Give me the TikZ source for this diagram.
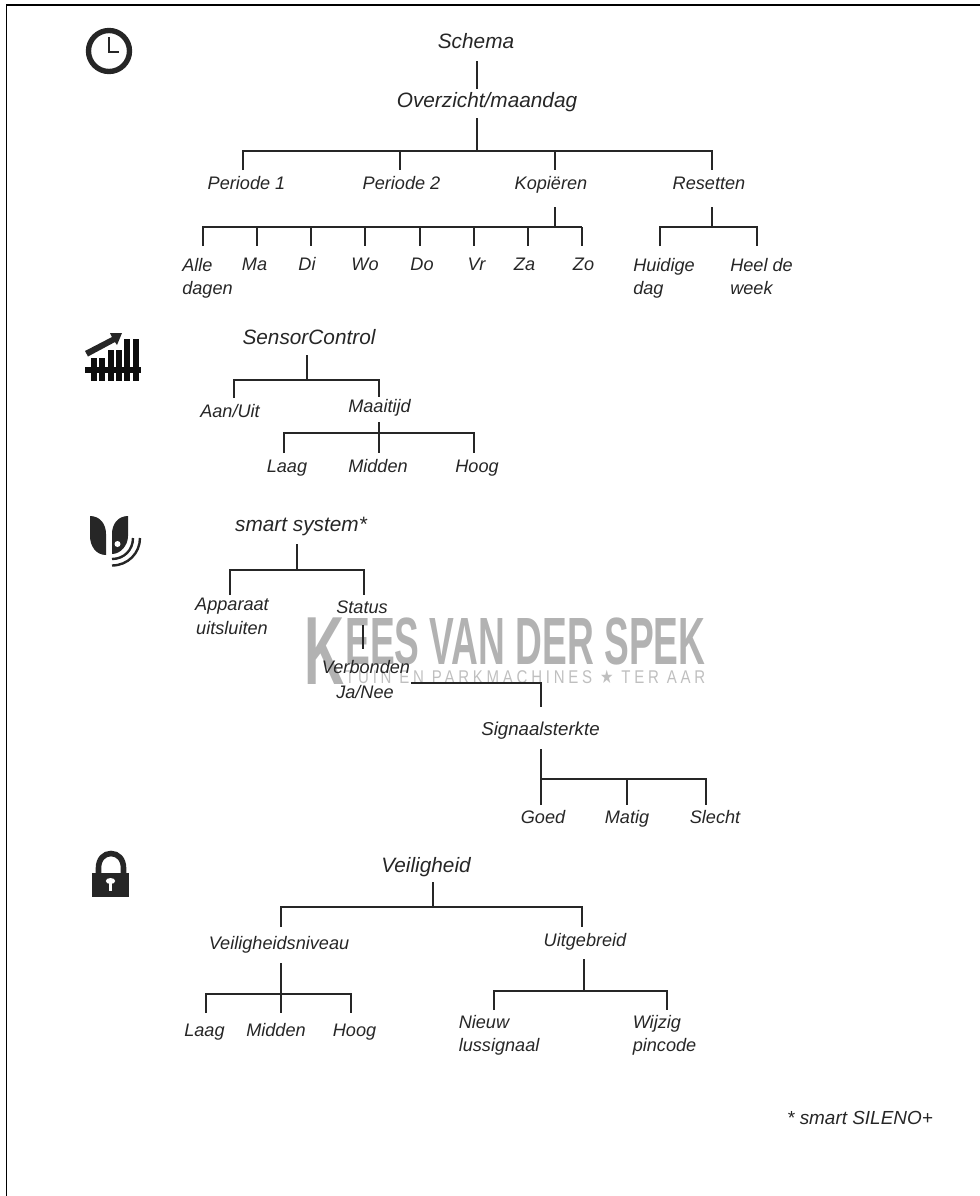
\documentclass[tikz,border=0pt]{standalone}
\usepackage{fontspec}
\usepackage{graphicx}
\setmainfont{Liberation Sans}
\newfontfamily\dvfont{DejaVu Sans}
\tikzset{x=0.75pt,y=-0.75pt,
 lbl/.style={font=\itshape\fontsize{13.6}{16.5}\selectfont,text=black!85,align=center,inner sep=0pt,anchor=center},
 rowlbl/.style={lbl,text height=9.8pt,text depth=2.9pt},
 big/.style={font=\itshape\fontsize{15.6}{18}\selectfont,text=black!85,inner sep=0pt,anchor=center},
 conn/.style={draw=black!85,line width=1.2pt},
 thick conn/.style={draw=black!85,line width=1.6pt},
 icon/.style={fill=black!85,draw=none},
 frame/.style={draw=black,line width=1.1pt}}
\begin{document}
\begin{tikzpicture}
\useasboundingbox (0,0) rectangle (980,1196);
% frame
\coordinate (fa) at (6.5,1196); \coordinate (fb) at (6.5,5); \coordinate (fc) at (980,5);
\draw[frame] (fa) -- (fb) -- (fc);
% watermark
\node[inner sep=0pt,anchor=south west,text=black!30] (wmk) at (304,685) {\resizebox{30pt}{50pt}{\bfseries K}};
\node[inner sep=0pt,anchor=south west,text=black!30] (wm) at (345,665) {\resizebox{270pt}{35pt}{\bfseries EES VAN DER SPEK}};
\node[inner sep=0pt,anchor=south west,text=black!25] (wm2) at (345,684) {\resizebox{270pt}{10pt}{\fontspec{Liberation Sans}[LetterSpace=25]TUIN EN PARKMACHINES {\dvfont ★} TER AAR}};
% clock icon
\draw[draw=black!85,line width=4pt] (109,51) circle (20.5);
\draw[draw=black!85,line width=2.2pt] (109,37) -- (109,52) -- (119,52);
% sensor icon
\foreach \xa/\ya in {91/358,99/358,108/350,116/350,124/339,133/339}{
 \fill[black!95] (\xa,\ya) rectangle (\xa+6,381);}
\fill[black!95] (85,367) rectangle (141,373);
\fill[icon] (85,351) -- (112,337) -- (110,333) -- (122,333) -- (117,345) -- (115,342) -- (88,356.5) -- cycle;
% smart icon
\fill[icon] (90,516) .. controls (100,516) and (106,524) .. (106,534) -- (106,555) .. controls (96,555) and (90,546) .. (90,536) -- cycle;
\fill[icon] (128,516) .. controls (118,516) and (112,524) .. (112,534) -- (112,554) .. controls (120,554) and (128,546) .. (128,536) -- cycle;
\fill[white] (117.5,544) circle (3);
\draw[draw=black!85,line width=1.8pt] (112,559) .. controls (124,559) and (133,550) .. (133,538);
\draw[draw=black!85,line width=1.8pt] (112,565.5) .. controls (128,565.5) and (140,553) .. (140,538);
% lock icon
\fill[icon] (92,873) rectangle (129,897);
\draw[draw=black!85,line width=4.2pt] (98.5,874) -- (98.5,868) .. controls (98.5,859) and (104,853.5) .. (111,853.5) .. controls (118,853.5) and (123.5,859) .. (123.5,868) -- (123.5,874);
\fill[white] (110.5,881) ellipse (4.7 and 3);
\fill[white] (108.8,881) rectangle (112,891);
% Schema tree
\node[big] (schema) at (476,41) {Schema};
\node[big] (ov) at (487,102) {Overzicht/maandag};
\node[rowlbl] (p1) at (246.5,185) {Periode 1};
\node[rowlbl] (p2) at (401.5,185) {Periode 2};
\node[rowlbl] (ko) at (551,185) {Kopiëren};
\node[rowlbl] (re) at (709,185) {Resetten};
\draw[conn] (477,61) -- (477,89);
\draw[conn] (477,118) -- (477,151);
\draw[conn] (243,170) -- (243,151) -- (712,151) -- (712,170);
\draw[conn] (400,151) -- (400,170);
\draw[conn] (555,151) -- (555,170);
\foreach \xa/\xb/\t/\n in {257/254.5/Ma/ma,311/307/Di/di,365/365/Wo/wo,420/422/Do/do,474/476.5/Vr/vr,528/524.5/Za/za,582/583.5/Zo/zo}{
 \node[rowlbl] (\n) at (\xb,266) {\t};
 \draw[conn] (\xa,227) -- (\xa,246);}
\node[lbl,align=left,anchor=north west] (alle) at (182,258) {Alle\\[1pt]dagen};
\draw[conn] (203,246) -- (203,227) -- (582,227);
\draw[conn] (555,207) -- (555,227);
\node[lbl,align=left,anchor=north west] (hui) at (633,258) {Huidige\\[1pt]dag};
\node[lbl,align=left,anchor=north west] (hee) at (730,258) {Heel de\\[1pt]week};
\draw[conn] (712,207) -- (712,227);
\draw[conn] (660,246) -- (660,227) -- (757,227) -- (757,246);
% SensorControl
\node[big] (sc) at (309,337) {SensorControl};
\draw[conn] (307,355) -- (307,380);
\draw[conn] (234,398) -- (234,380) -- (379,380) -- (379,397);
\node[lbl] (aan) at (230,411) {Aan/Uit};
\node[lbl] (maa) at (379.5,408) {Maaitijd};
\draw[conn] (379,422) -- (379,453);
\draw[conn] (284,453) -- (284,433) -- (474,433) -- (474,453);
\node[rowlbl] (l1) at (287,468) {Laag};
\node[rowlbl] (m1) at (378,468) {Midden};
\node[rowlbl] (h1) at (477,468) {Hoog};
% smart system
\node[big] (ss) at (301,526.5) {smart system*};
\draw[thick conn] (297,544) -- (297,570);
\draw[thick conn] (230,595) -- (230,570) -- (364,570) -- (364,595);
\node[lbl,anchor=north] (app) at (232,598) {Apparaat\\[1pt]uitsluiten};
\node[lbl] (sta) at (362,607) {Status};
\draw[conn] (363,625) -- (363,649);
\node[lbl] (ver) at (366,667) {Verbonden};
\node[lbl] (ja) at (365,692) {Ja/Nee};
\draw[thick conn] (411,683) -- (541,683) -- (541,707);
\node[lbl,font=\itshape\fontsize{14}{16.5}\selectfont] (sig) at (540.5,731) {Signaalsterkte};
\draw[conn] (541,749) -- (541,779);
\draw[thick conn] (541,805) -- (541,779) -- (706,779) -- (706,805);
\draw[conn] (627,779) -- (627,805);
\node[rowlbl] (go) at (543,819) {Goed};
\node[rowlbl] (mat) at (627,819) {Matig};
\node[rowlbl] (sl) at (715,819) {Slecht};
% Veiligheid
\node[big] (ve) at (426,867) {Veiligheid};
\draw[conn] (433,882) -- (433,907);
\draw[conn] (281,927) -- (281,907) -- (582,907) -- (582,927);
\node[lbl] (vn) at (279,945) {Veiligheidsniveau};
\node[lbl] (ui) at (585,942) {Uitgebreid};
\draw[conn] (281,963) -- (281,1013);
\draw[conn] (206,1013) -- (206,994) -- (351,994) -- (351,1013);
\node[rowlbl] (l2) at (204.5,1032) {Laag};
\node[rowlbl] (m2) at (276,1032) {Midden};
\node[rowlbl] (h2) at (354.5,1032) {Hoog};
\draw[conn] (584,959) -- (584,991);
\draw[conn] (494,1010) -- (494,991) -- (667,991) -- (667,1010);
\node[lbl,align=left,anchor=north west] (ni) at (458.5,1015) {Nieuw\\[1pt]lussignaal};
\node[lbl,align=left,anchor=north west] (wi) at (632.5,1015) {Wijzig\\[1pt]pincode};
\node[lbl,font=\itshape\fontsize{14.2}{16.5}\selectfont] (foot) at (860,1118) {* smart SILENO+};
\end{tikzpicture}
\end{document}
